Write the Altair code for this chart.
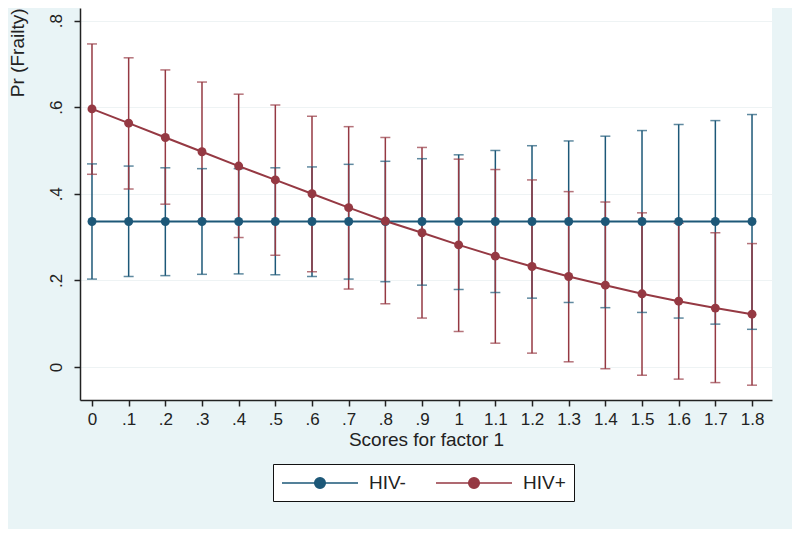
import altair as alt
import pandas as pd

scores = [0.0, 0.1, 0.2, 0.3, 0.4, 0.5, 0.6, 0.7, 0.8, 0.9,
          1.0, 1.1, 1.2, 1.3, 1.4, 1.5, 1.6, 1.7, 1.8]

groups = ["HIV-", "HIV+"]

hiv_neg_pr = [0.336, 0.336, 0.336, 0.336, 0.336, 0.336, 0.336, 0.336, 0.336, 0.336,
              0.336, 0.336, 0.336, 0.336, 0.336, 0.336, 0.336, 0.336, 0.336]
hiv_neg_lo = [0.203, 0.209, 0.211, 0.214, 0.215, 0.213, 0.209, 0.203, 0.197, 0.189,
              0.179, 0.172, 0.159, 0.149, 0.137, 0.126, 0.113, 0.099, 0.087]
hiv_neg_hi = [0.469, 0.464, 0.460, 0.458, 0.458, 0.460, 0.462, 0.468, 0.475, 0.481,
              0.490, 0.500, 0.511, 0.522, 0.533, 0.546, 0.560, 0.569, 0.583]

hiv_pos_pr = [0.596, 0.563, 0.530, 0.497, 0.464, 0.432, 0.400, 0.368, 0.337, 0.310,
              0.282, 0.256, 0.232, 0.209, 0.189, 0.169, 0.152, 0.136, 0.122]
hiv_pos_lo = [0.445, 0.411, 0.376, 0.337, 0.299, 0.258, 0.220, 0.180, 0.146, 0.113,
              0.082, 0.055, 0.032, 0.012, -0.004, -0.019, -0.028, -0.036, -0.042]
hiv_pos_hi = [0.746, 0.714, 0.686, 0.658, 0.630, 0.605, 0.579, 0.555, 0.530, 0.507,
              0.480, 0.456, 0.432, 0.405, 0.381, 0.356, 0.332, 0.310, 0.285]

y_ticks = [0.0, 0.2, 0.4, 0.6, 0.8]

BLUE = "#1d5878"
RED = "#953943"
FONT = "Liberation Sans"

rows = []
for g, pr, lo, hi in [("HIV-", hiv_neg_pr, hiv_neg_lo, hiv_neg_hi),
                      ("HIV+", hiv_pos_pr, hiv_pos_lo, hiv_pos_hi)]:
    for s, p, l, h in zip(scores, pr, lo, hi):
        rows.append({"score": s, "group": g, "pr": p, "lo": l, "hi": h})
df = pd.DataFrame(rows)

xscale = alt.Scale(domain=[-0.0327, 1.8545], nice=False, zero=False)
yscale = alt.Scale(domain=[-0.0762, 0.829], nice=False, zero=False)

legend = alt.Legend(
    title=None,
    orient="none",
    legendX=193,
    legendY=456,
    direction="horizontal",
    symbolType="M -3.8 0 L 3.8 0 M 0.53 0 A 0.53 0.53 0 1 1 -0.53 0 A 0.53 0.53 0 1 1 0.53 0 Z",
    symbolSize=400,
    symbolOffset=28,
    symbolStrokeWidth=1.5,
    symbolOpacity=1,
    labelFont=FONT,
    labelFontSize=19,
    labelColor="#222222",
    labelOffset=38,
    columnPadding=27,
    padding=8,
    strokeColor="#111111",
    fillColor="#ffffff",
)

color = alt.Color("group:N", scale=alt.Scale(domain=groups, range=[BLUE, RED]), legend=legend)

x_axis = alt.Axis(
    values=scores,
    labelExpr="datum.value == 0 ? '0' : (datum.value < 1 ? '.' + format(datum.value * 10, '.0f') : format(datum.value, '.1~f'))",
    labelOverlap=False,
    title="Scores for factor 1",
    grid=False,
)
y_axis = alt.Axis(
    values=y_ticks,
    labelExpr="datum.value == 0 ? '0' : '.' + format(datum.value * 10, '.0f')",
    labelAngle=270,
    labelAlign="center",
    labelBaseline="bottom",
    labelOverlap=False,
    title="Pr (Frailty)",
    titleAngle=270,
    titleAlign="right",
    titleBaseline="middle",
    titleX=-63,
    titleY=0,
    grid=True,
)


def X():
    return alt.X("score:Q", scale=xscale, axis=x_axis)


def Y(field):
    return alt.Y(field, scale=yscale, axis=y_axis)


base = alt.Chart(df)

bars = base.mark_rule(strokeWidth=1.5).encode(
    x=X(), y=Y("lo:Q"), y2="hi:Q", color=color,
)
caps_lo = base.mark_tick(orient="horizontal", size=10, thickness=1.5).encode(
    x=X(), y=Y("lo:Q"), color=color,
)
caps_hi = base.mark_tick(orient="horizontal", size=10, thickness=1.5).encode(
    x=X(), y=Y("hi:Q"), color=color,
)
lines = base.mark_line(strokeWidth=2).encode(
    x=X(), y=Y("pr:Q"), color=color,
)
points = base.mark_point(filled=True, size=80, opacity=1).encode(
    x=X(), y=Y("pr:Q"), color=color,
)

chart = alt.layer(bars, caps_lo, caps_hi, lines, points).properties(
    width=692,
    height=392,
    autosize=alt.AutoSizeParams(type="none"),
    padding={"left": 72, "top": 0, "right": 20, "bottom": 129},
    background="#e9f4f6",
).configure_view(
    fill="#ffffff",
    stroke=None,
).configure_axis(
    labelFont=FONT,
    labelFontSize=17,
    labelColor="#222222",
    titleFont=FONT,
    titleFontSize=19,
    titleFontWeight="normal",
    titleColor="#222222",
    domainColor="#222222",
    domainWidth=1.5,
    tickColor="#222222",
    tickWidth=1.5,
    tickSize=6,
    gridColor="#eef3f4",
    gridWidth=1,
).configure_axisX(
    labelPadding=5,
    titlePadding=3,
).configure_axisY(
    labelPadding=9,
)

chart.save("out.html", embed_options={"renderer": "svg", "actions": False})
